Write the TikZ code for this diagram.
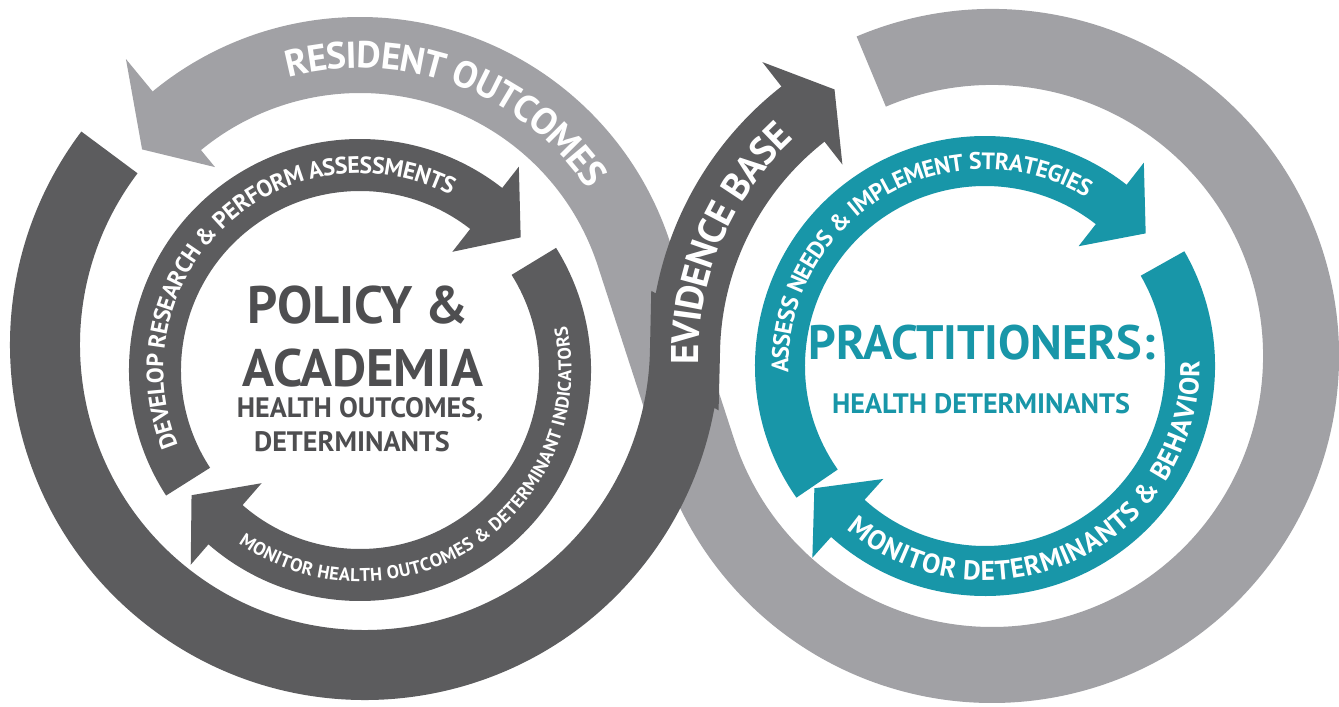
\documentclass[tikz,border=0pt]{standalone}
\usepackage{fontspec}
\setmainfont{PT Sans}
\usetikzlibrary{calc,decorations.text}

\definecolor{ribbondark}{RGB}{92,92,94}
\definecolor{ribbonlight}{RGB}{161,161,165}
\definecolor{cycleteal}{RGB}{24,150,168}
\definecolor{titlegray}{RGB}{78,78,80}

\tikzset{
  darkband/.style={draw=ribbondark, line width=14mm},
  lightband/.style={draw=ribbonlight, line width=15.2mm},
  innerband/.style={draw=ribbondark, line width=10.4mm},
  tealband/.style={draw=cycleteal, line width=10mm},
  arctext/.style={decorate, decoration={text along path, text align=center, text color=white, raise=#1}},
  bigtitle/.style={font=\bfseries\fontsize{30}{32}\selectfont, inner sep=0pt},
  subtitle/.style={font=\bfseries\fontsize{16}{18}\selectfont, inner sep=0pt}
}

\begin{document}
\begin{tikzpicture}[x=0.2mm,y=0.2mm]
\useasboundingbox (0,0) rectangle (1339,706);
\fill[white] (0,0) rectangle (1339,706);

\coordinate (leftloop) at (365,361);
\coordinate (lefttop) at (360,363);
\coordinate (rightloop) at (992,350);
\coordinate (leftcycle) at (360,336);
\coordinate (rightcycle) at (985,340);

% light ribbon: round the right loop, then over the left one
\draw[lightband] ($(rightloop)+(113:309)$) arc[start angle=113, end angle=-162, radius=309]
  -- ($(lefttop)+(18:288)$) arc[start angle=18, end angle=130.5, radius=288];
\fill[ribbonlight] ($(lefttop)+(129.5:228)$) -- ($(lefttop)+(129.5:368)$)
  -- ($(lefttop)+(129.5:288)+(219.5:45)$) -- cycle;

% dark ribbon: round the left loop, then up as evidence base
\draw[darkband] ($(leftloop)+(143:320)$) arc[start angle=143, end angle=359, radius=320]
  -- ($(rightloop)+(179:307)$) arc[start angle=179, end angle=127, radius=307];
\fill[ribbondark] ($(rightloop)+(128:243)$) -- ($(rightloop)+(128:373)$)
  -- ($(rightloop)+(128:307)+(38:40)$) -- cycle;

% inner cycle, left
\draw[innerband] ($(leftcycle)+(213:205)$) arc[start angle=213, end angle=51, radius=205];
\fill[ribbondark] ($(leftcycle)+(52:150)$) -- ($(leftcycle)+(52:258)$)
  -- ($(leftcycle)+(52:205)+(-40:45)$) -- cycle;
\draw[innerband] ($(leftcycle)+(32:205)$) arc[start angle=32, end angle=-132, radius=205];
\fill[ribbondark] ($(leftcycle)+(-131:150)$) -- ($(leftcycle)+(-131:258)$)
  -- ($(leftcycle)+(-131:205)+(139:45)$) -- cycle;

% inner cycle, right
\draw[tealband] ($(rightcycle)+(215:205)$) arc[start angle=215, end angle=51, radius=205];
\fill[cycleteal] ($(rightcycle)+(52:152)$) -- ($(rightcycle)+(52:258)$)
  -- ($(rightcycle)+(52:205)+(-40:45)$) -- cycle;
\draw[tealband] ($(rightcycle)+(30:205)$) arc[start angle=30, end angle=-133, radius=205];
\fill[cycleteal] ($(rightcycle)+(-132:152)$) -- ($(rightcycle)+(-132:258)$)
  -- ($(rightcycle)+(-132:205)+(138:45)$) -- cycle;

% texts on the bands
\path[arctext=-2.62mm, decoration={text={|\bfseries\fontsize{21.3}{21.3}\selectfont|RESIDENT OUTCOMES}}]
  ($(lefttop)+(112:288)$) arc[start angle=112, end angle=27, radius=288];
\path[arctext=-2.7mm, decoration={text={|\bfseries\fontsize{22}{22}\selectfont|EVIDENCE BASE}}]
  ($(rightloop)+(191:307)$) arc[start angle=191, end angle=123, radius=307];
\path[arctext=-1.66mm, decoration={text={|\bfseries\fontsize{13.5}{13.5}\selectfont|DEVELOP RESEARCH {\&} PERFORM ASSESSMENTS}}]
  ($(leftcycle)+(218:205)$) arc[start angle=218, end angle=47, radius=205];
\path[arctext=-1.29mm, decoration={text={|\bfseries\fontsize{10.5}{10.5}\selectfont|MONITOR HEALTH OUTCOMES {\&} DETERMINANT INDICATORS}}]
  ($(leftcycle)+(232:205)$) arc[start angle=232, end angle=375, radius=205];
\path[arctext=-1.66mm, decoration={text={|\bfseries\fontsize{13.5}{13.5}\selectfont|ASSESS NEEDS {\&} IMPLEMENT STRATEGIES}}]
  ($(rightcycle)+(188:205)$) arc[start angle=188, end angle=53, radius=205];
\path[arctext=-1.9mm, decoration={text={|\bfseries\fontsize{15.5}{15.5}\selectfont|MONITOR DETERMINANTS {\&} BEHAVIOR}}]
  ($(rightcycle)+(226:205)$) arc[start angle=226, end angle=365, radius=205];

% centre titles
\node[bigtitle, text=titlegray] (policy) at (358,401) {POLICY \&};
\node[bigtitle, text=titlegray] (academia) at (363,338) {ACADEMIA};
\node[subtitle, text=titlegray] (outcomes) at (360,296) {HEALTH OUTCOMES,};
\node[subtitle, text=titlegray] (determinants) at (352,264) {DETERMINANTS};
\node[bigtitle, text=cycleteal, font=\bfseries\fontsize{27.5}{29}\selectfont] (practitioners) at (982,363) {PRACTITIONERS:};
\node[subtitle, text=cycleteal] (healthdet) at (981,302) {HEALTH DETERMINANTS};
\end{tikzpicture}
\end{document}
